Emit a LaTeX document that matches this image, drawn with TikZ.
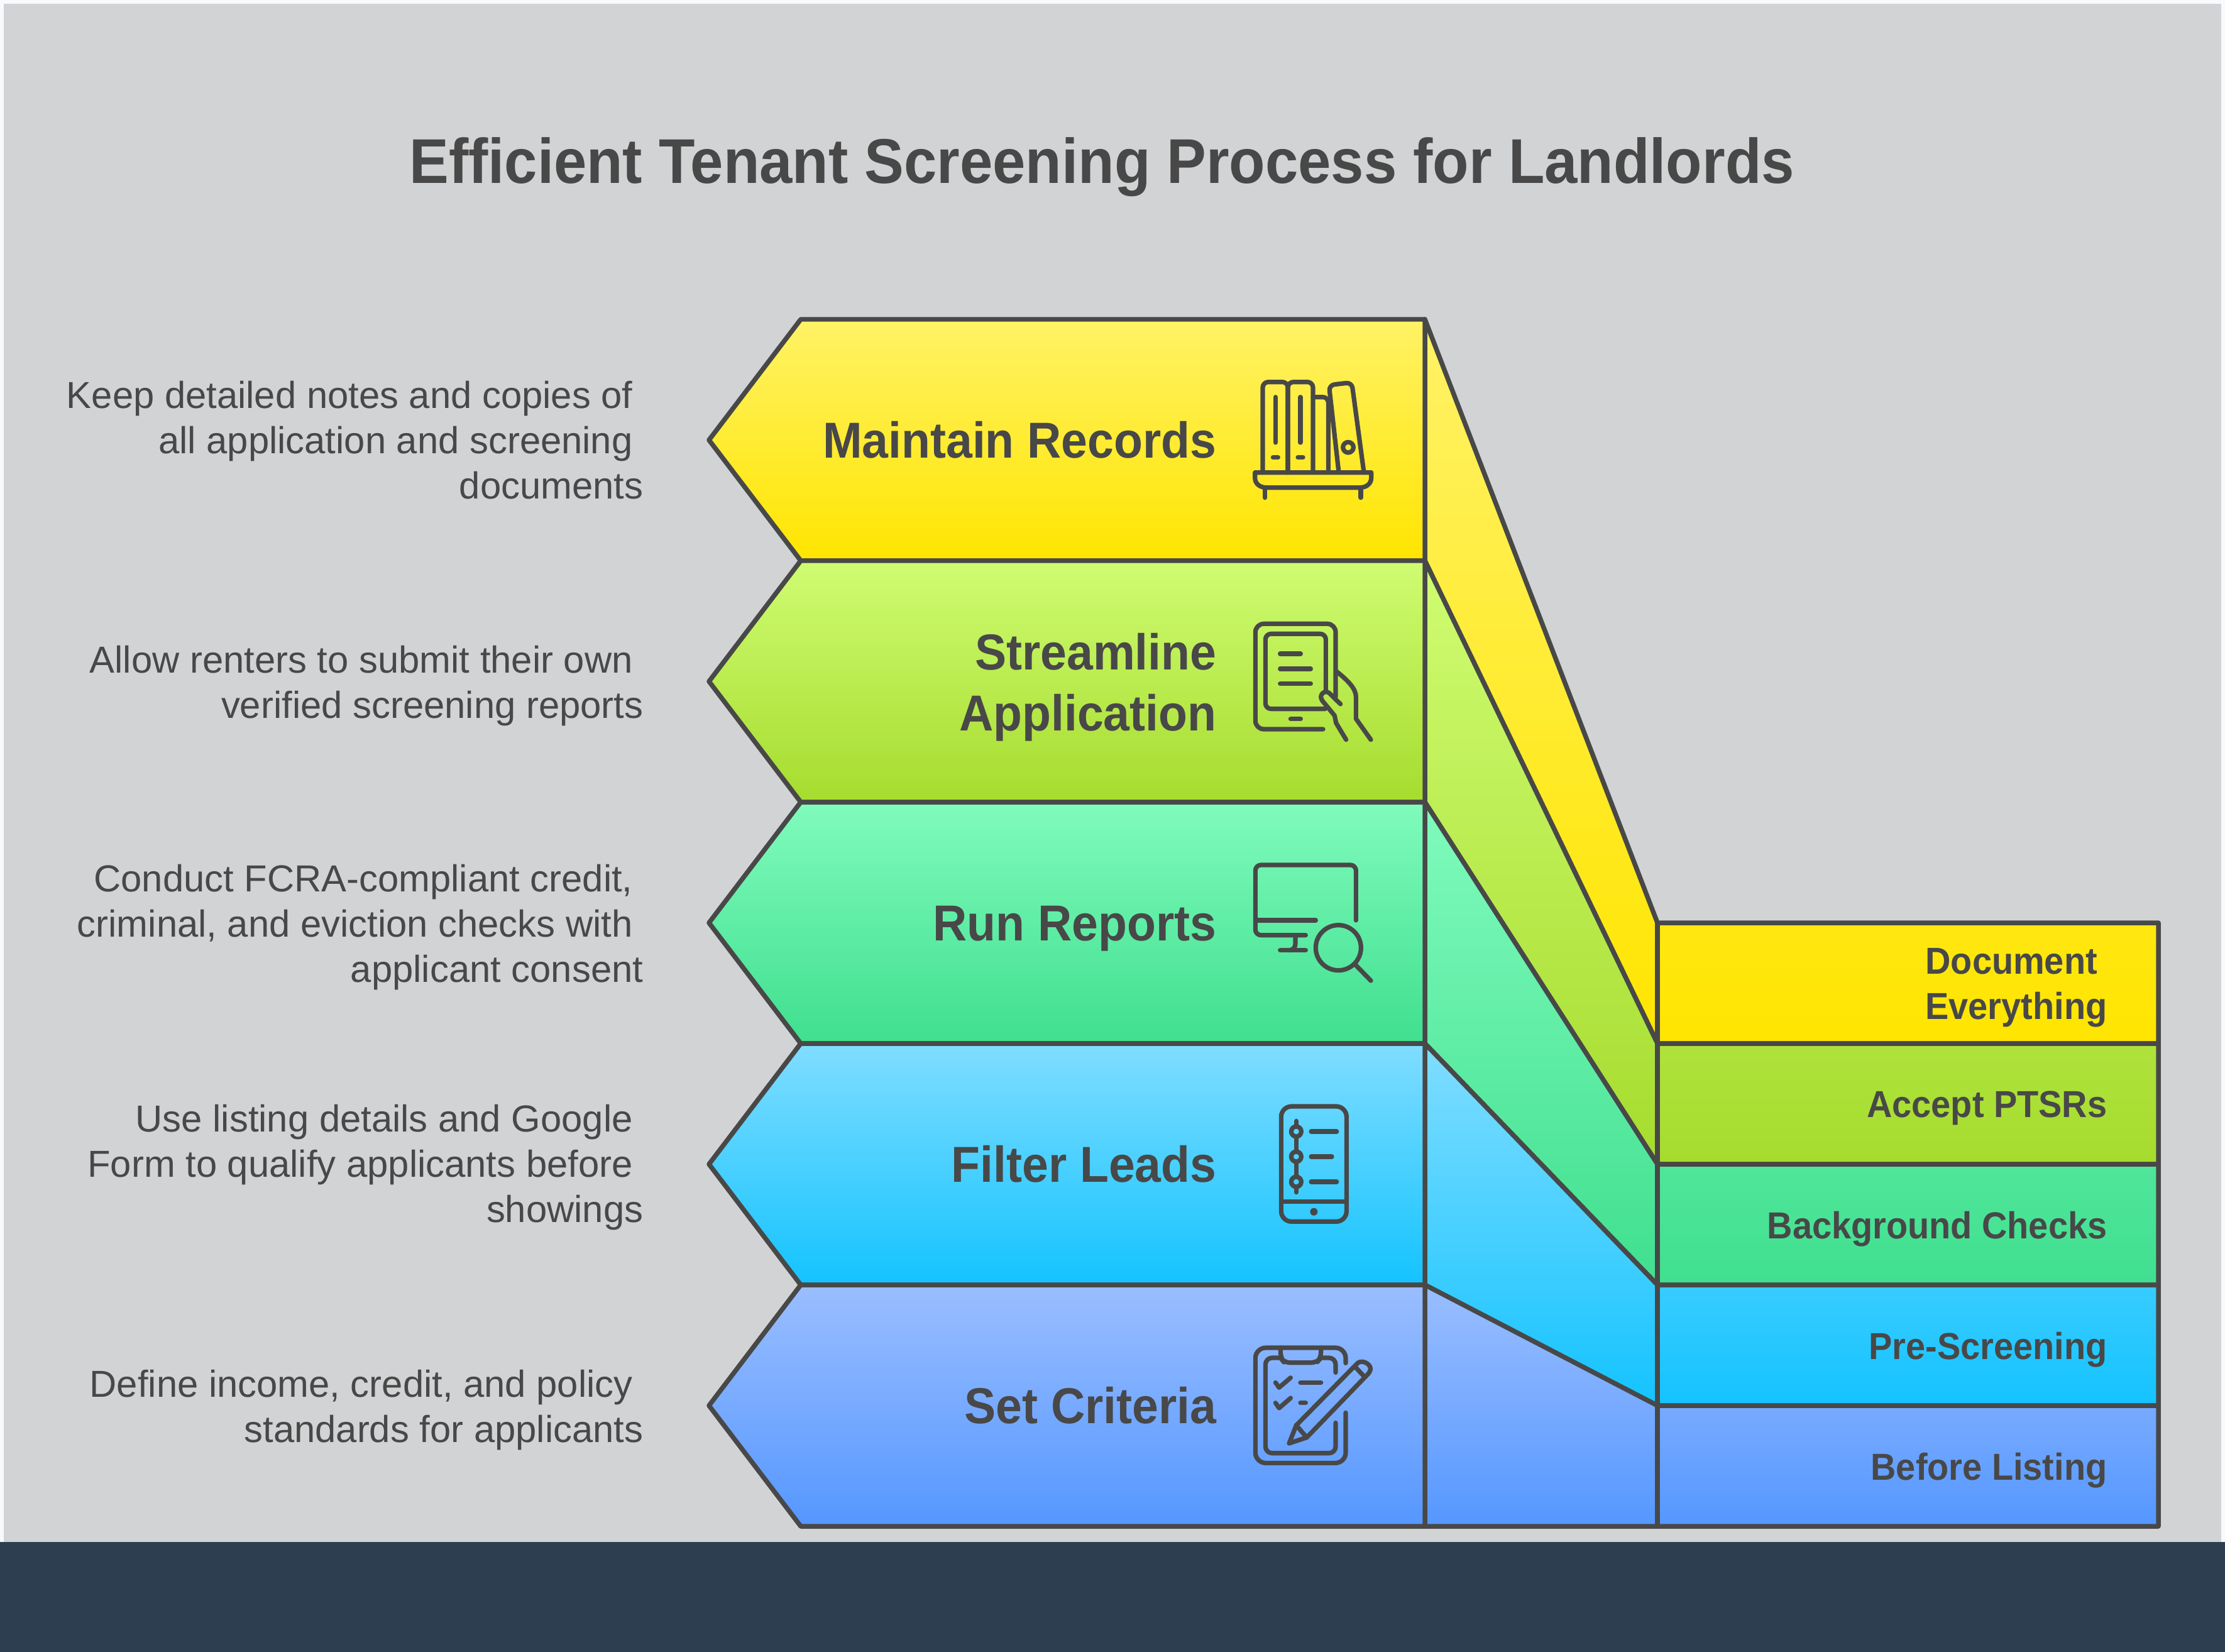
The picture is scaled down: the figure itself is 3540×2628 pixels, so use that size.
\documentclass[tikz,border=0pt]{standalone}
\usepackage{fontspec}
\setmainfont{Liberation Sans}[BoldFeatures={FakeStretch=0.935}]

\definecolor{ink}{HTML}{484848}
\definecolor{paper}{HTML}{D1D3D4}
\definecolor{edge}{HTML}{F8FAFE}
\definecolor{footer}{HTML}{2C3E50}
\definecolor{yellowTop}{HTML}{FFF266}
\definecolor{yellowLow}{HTML}{FFE500}
\definecolor{greenTop}{HTML}{CFFC72}
\definecolor{greenLow}{HTML}{A6DC2E}
\definecolor{tealTop}{HTML}{80FBBC}
\definecolor{tealLow}{HTML}{40DF8F}
\definecolor{skyTop}{HTML}{80DDFF}
\definecolor{skyLow}{HTML}{14C3FF}
\definecolor{blueTop}{HTML}{9ABEFF}
\definecolor{blueLow}{HTML}{5597FF}

\tikzset{
  outline/.style={draw=ink, line width=2.13pt, line join=round},
  glyph/.style={draw=ink, line width=2.05pt, line cap=round, line join=round},
  heading/.style={text=ink, inner sep=0pt, anchor=base, font={\fontsize{28.6}{36}\selectfont\bfseries}},
  steplabel/.style={text=ink, inner sep=0pt, anchor=east, align=right, font={\fontsize{22.85}{27.6}\selectfont\bfseries}},
  sidelabel/.style={text=ink, inner sep=0pt, anchor=east, align=right, font={\fontsize{17}{20.55}\selectfont\bfseries}},
  note/.style={text=ink, inner sep=0pt, anchor=east, align=right, font={\fontsize{17}{20.55}\selectfont}},
}

\begin{document}
\begin{tikzpicture}[x=0.01cm, y=-0.01cm]

    % First the page: margin, grey sheet, footer
    \fill[edge] (0,0) rectangle (3540,2628);
    \useasboundingbox (0,0) rectangle (3540,2628);
    \fill[paper] (6,6) rectangle (3534,2453);
    \fill[footer] (0,2453) rectangle (3540,2628);

    \node[heading] (title) at (1753,292) {Efficient Tenant Screening Process for Landlords};

    % Next, the five bands: arrow head in front, wall and box behind
    \foreach \ya/\yb/\ra/\rb/\hue in {508/892/1468/1660/yellow, 892/1276/1660/1852/green,
        1276/1660/1852/2044/teal, 1660/2044/2044/2236/sky, 2044/2428/2236/2428/blue} {
      \draw[outline, top color=\hue Top, bottom color=\hue Low]
        (2267,\ya) -- (2637,\ra) -- (3434,\ra) -- (3434,\rb) -- (2637,\rb) -- (2267,\yb) -- cycle;
      \draw[outline, top color=\hue Top, bottom color=\hue Low]
        (1274,\ya) -- (2267,\ya) -- (2267,\yb) -- (1274,\yb) -- (1128,{0.5*(\ya+\yb)}) -- cycle;
    }
    \draw[outline] (2637,1468) -- (2637,2428);

    % Step names
    \node[steplabel] (maintain) at (1936,700) {Maintain Records};
    \node[steplabel] (streamline) at (1936,1093) {Streamline\\Application};
    \node[steplabel] (run) at (1936,1477) {Run Reports};
    \node[steplabel] (filter) at (1936,1852) {Filter Leads};
    \node[steplabel] (criteria) at (1936,2236) {Set Criteria};

    % Box names
    \node[sidelabel] (document) at (3353,1571) {Document~\mbox{}\\Everything};
    \node[sidelabel] (accept) at (3353,1763) {Accept PTSRs};
    \node[sidelabel] (background) at (3353,1955) {Background Checks};
    \node[sidelabel] (prescreen) at (3353,2147) {Pre-Screening};
    \node[sidelabel] (listing) at (3353,2339) {Before Listing};

    % Notes on the left
    \node[note] (notekeep) at (1024,700) {Keep detailed notes and copies of~\mbox{}\\all application and screening~\mbox{}\\documents};
    \node[note] (noteallow) at (1024,1091) {Allow renters to submit their own~\mbox{}\\verified screening reports};
    \node[note] (noteconduct) at (1024,1475) {Conduct FCRA-compliant credit,~\mbox{}\\criminal, and eviction checks with~\mbox{}\\applicant consent};
    \node[note] (noteuse) at (1024,1857) {Use listing details and Google~\mbox{}\\Form to qualify applicants before~\mbox{}\\showings};
    \node[note] (notedefine) at (1024,2243) {Define income, credit, and policy~\mbox{}\\standards for applicants};

    % Icon: shelf of binders
    \begin{scope}[shift={(1980,590)}, scale=1/3]
      \draw[glyph] (50,485) -- (50,510) .. controls (50,540) and (75,557) .. (105,557) -- (550,557)
        .. controls (580,557) and (605,540) .. (605,510) -- (605,485) -- cycle;
      \draw[glyph] (98,557) -- (98,605);
      \draw[glyph] (555,557) -- (555,605);
      \draw[glyph, rounded corners=2.5pt] (87,485) -- (87,53) -- (207,53) -- (207,485);
      \draw[glyph, rounded corners=2.5pt] (207,485) -- (207,53) -- (327,53) -- (327,485);
      \draw[glyph, rounded corners=2.5pt] (327,125) -- (400,125) -- (400,485);
      \draw[glyph, rounded corners=2.5pt] (450,485) -- (403,68) -- (512,55) -- (570,485);
      \draw[glyph] (495,365) circle (25);
      \foreach \x in {148, 267} {
        \draw[glyph] (\x,125) -- (\x,342);
        \draw[glyph] (\x-12,413) -- (\x+12,413);
      }
    \end{scope}

    % Icon: tablet in hand
    \begin{scope}[shift={(1980,980)}, scale=1/3]
      \draw[glyph, rounded corners=3.8pt] (375,540) -- (52,540) -- (52,37) -- (435,37) -- (435,385);
      \draw[glyph, rounded corners=2.5pt] (385,443) -- (100,443) -- (100,85) -- (388,85) -- (388,355);
      \draw[glyph] (170,180) -- (268,180);
      \draw[glyph] (170,252) -- (316,252);
      \draw[glyph] (170,323) -- (316,323);
      \draw[glyph] (220,491) -- (268,491);
      \draw[glyph] (458,420) -- (405,368) .. controls (385,350) and (350,375) .. (372,405) -- (430,475)
        -- (437,510) -- (485,590);
      \draw[glyph] (440,265) .. controls (490,305) and (532,345) .. (532,385) -- (532,490) -- (603,590);
    \end{scope}

    % Icon: monitor and magnifier
    \begin{scope}[shift={(1980,1360)}, scale=1/3]
      \draw[glyph, rounded corners=2.5pt] (532,312) -- (532,48) -- (52,48) -- (52,383) -- (292,383);
      \draw[glyph] (52,312) -- (340,312);
      \draw[glyph] (243,383) -- (243,420) .. controls (243,445) and (230,455) .. (210,455);
      \draw[glyph] (170,455) -- (292,455);
      \draw[glyph] (448,443) circle (108);
      \draw[glyph] (530,525) -- (603,600);
    \end{scope}

    % Icon: phone with checklist
    \begin{scope}[shift={(1980,1750)}, scale=1/3]
      \draw[glyph, rounded corners=4.7pt] (175,30) rectangle (487,580);
      \draw[glyph] (175,485) -- (487,485);
      \fill[ink] (331,533) circle (18);
      \foreach \y in {150, 270, 390}
        \draw[glyph] (247,\y) circle (24);
      \draw[glyph] (247,100) -- (247,126);
      \draw[glyph] (247,174) -- (247,246);
      \draw[glyph] (247,294) -- (247,366);
      \draw[glyph] (247,414) -- (247,440);
      \draw[glyph] (318,150) -- (440,150);
      \draw[glyph] (318,270) -- (417,270);
      \draw[glyph] (318,390) -- (440,390);
    \end{scope}

    % Icon: clipboard and pencil
    \begin{scope}[shift={(1980,2130)}, scale=1/3]
      \draw[glyph, rounded corners=4.7pt] (483,115) -- (483,42) -- (52,42) -- (52,592) -- (483,592) -- (483,352);
      \draw[glyph, rounded corners=3pt] (435,160) -- (435,90) -- (370,90);
      \draw[glyph, rounded corners=3pt] (172,90) -- (100,90) -- (100,545) -- (435,545) -- (435,400);
      \draw[glyph, rounded corners=2.5pt] (172,42) -- (172,90) -- (190,113) -- (345,113) -- (365,90) -- (365,42);
      \draw[glyph] (148,208) -- (165,232) -- (220,185);
      \draw[glyph] (148,305) -- (165,330) -- (220,282);
      \draw[glyph] (267,208) -- (365,208);
      \draw[glyph] (267,305) -- (292,305);
      \draw[glyph] (213,498) -- (247,412) -- (540,115) .. controls (565,95) and (610,125) .. (600,150)
        .. controls (597,160) and (590,167) .. (585,172) -- (297,470) -- cycle;
      \draw[glyph] (530,135) -- (572,180);
      \draw[glyph] (247,412) -- (297,470);
    \end{scope}

\end{tikzpicture}
\end{document}
